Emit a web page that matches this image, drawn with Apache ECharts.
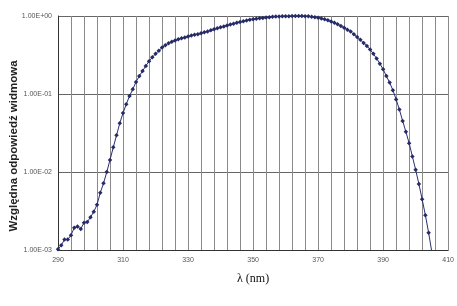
<!DOCTYPE html>
<html>
<head>
<meta charset="utf-8">
<script src="https://cdn.jsdelivr.net/npm/echarts@6/dist/echarts.min.js"></script>
<style>html,body{margin:0;padding:0;background:#fff}#c{width:457px;height:306px}</style>
</head>
<body>
<div id="c"></div>
<script>
const wavelengths = [
  290,291,292,293,294,295,296,297,298,299,
  300,301,302,303,304,305,306,307,308,309,
  310,311,312,313,314,315,316,317,318,319,
  320,321,322,323,324,325,326,327,328,329,
  330,331,332,333,334,335,336,337,338,339,
  340,341,342,343,344,345,346,347,348,349,
  350,351,352,353,354,355,356,357,358,359,
  360,361,362,363,364,365,366,367,368,369,
  370,371,372,373,374,375,376,377,378,379,
  380,381,382,383,384,385,386,387,388,389,
  390,391,392,393,394,395,396,397,398,399,
  400,401,402,403,404,405
];
const response = [
  0.00102,0.00115,0.00136,0.00136,0.00155,0.00193,0.00200,0.00186,0.00224,0.00229,
  0.00263,0.00309,0.00380,0.00543,0.00716,0.0100,0.0143,0.0207,0.0295,0.0422,
  0.0569,0.0741,0.0944,0.115,0.143,0.170,0.197,0.229,0.263,0.295,
  0.327,0.359,0.394,0.422,0.447,0.468,0.486,0.504,0.518,0.530,
  0.547,0.562,0.573,0.585,0.600,0.617,0.635,0.655,0.675,0.695,
  0.715,0.735,0.755,0.776,0.798,0.818,0.839,0.859,0.877,0.893,
  0.908,0.923,0.935,0.946,0.957,0.966,0.975,0.982,0.986,0.991,
  0.993,0.995,0.998,1.000,1.000,0.999,0.995,0.989,0.979,0.966,
  0.951,0.931,0.908,0.881,0.851,0.818,0.783,0.746,0.708,0.668,
  0.631,0.582,0.537,0.495,0.452,0.412,0.372,0.327,0.285,0.245,
  0.207,0.170,0.140,0.112,0.0851,0.0631,0.0452,0.0327,0.0234,0.0158,
  0.0107,0.00700,0.00447,0.00279,0.00166,0.00093
];
const xTickLabels = ['290','310','330','350','370','390','410'];
const yTickValues = [0.001, 0.01, 0.1, 1];
const yTickLabels = ['1.00E-03','1.00E-02','1.00E-01','1.00E+00'];
const yTitle = 'Względna odpowiedź widmowa';
const xTitle = 'λ (nm)';

const chart = echarts.init(document.getElementById('c'), null, {renderer:'canvas'});
const pts = wavelengths.map((w,i)=>[w, response[i]]);
chart.setOption({
  animation:false,
  backgroundColor:'#fff',
  grid:{left:58, right:6, top:16, bottom:56, containLabel:false},
  xAxis:{
    type:'value', min:290, max:410, interval:4,
    name:xTitle, nameLocation:'middle', nameGap:23,
    nameTextStyle:{fontFamily:'Liberation Serif', fontSize:12, color:'#111'},
    axisLine:{lineStyle:{color:'#333', width:1}},
    axisTick:{show:false},
    axisLabel:{
      margin:7, fontSize:7, color:'#555', fontFamily:'Liberation Sans',
      formatter:v=>{const s=String(Math.round(v)); return xTickLabels.indexOf(s)>=0?s:'';}
    },
    splitLine:{show:true, lineStyle:{color:'#8a8a8a', width:1}}
  },
  yAxis:{
    type:'log', logBase:10, min:0.001, max:1,
    axisLine:{show:true, lineStyle:{color:'#333', width:1}},
    axisTick:{show:false},
    axisLabel:{
      margin:6, fontSize:7, color:'#555', fontFamily:'Liberation Sans',
      formatter:v=>{
        let best=0, d=Infinity;
        yTickValues.forEach((t,i)=>{const dd=Math.abs(Math.log10(t)-Math.log10(v)); if(dd<d){d=dd;best=i;}});
        return yTickLabels[best];
      }
    },
    splitLine:{show:true, lineStyle:{color:'#666', width:1}}
  },
  graphic:[{
    type:'text', x:14, y:146, rotation:Math.PI/2,
    style:{text:yTitle, fontFamily:'Liberation Sans', fontWeight:'bold', fontSize:11.5,
      fill:'#222', textAlign:'center', textVerticalAlign:'middle'}
  }],
  series:[{
    type:'line', data:pts, clip:true,
    symbol:'diamond', symbolSize:4.5, showSymbol:true,
    lineStyle:{color:'#2a2f6e', width:1},
    itemStyle:{color:'#262b68'}
  }]
});
</script>
</body>
</html>
